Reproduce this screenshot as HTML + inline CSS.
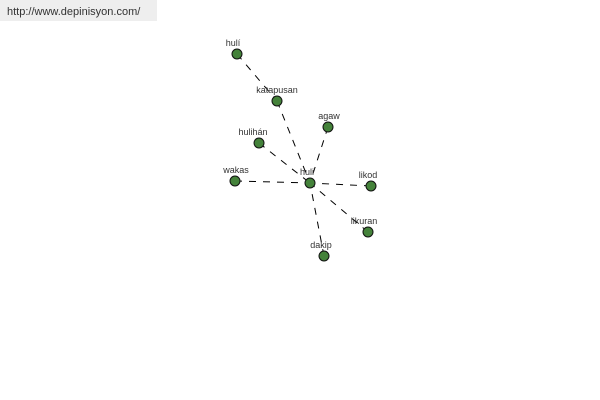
<!DOCTYPE html>
<html><head><style>body{margin:0;background:#fff}svg{display:block}</style></head><body>
<svg width="600" height="400" xmlns="http://www.w3.org/2000/svg" font-family="Liberation Sans, sans-serif">
<rect x="0" y="0" width="157" height="21" fill="#eeeeee"/>
<text x="7" y="15" font-size="11" fill="#333">http://www.depinisyon.com/</text>
<g stroke="#000" stroke-width="1" stroke-dasharray="7,7" fill="none">
<line x1="237" y1="54" x2="277" y2="101"/>
<line x1="277" y1="101" x2="310" y2="183"/>
<line x1="328" y1="127" x2="310" y2="183"/>
<line x1="259" y1="143" x2="310" y2="183"/>
<line x1="235" y1="181" x2="310" y2="183"/>
<line x1="371" y1="186" x2="310" y2="183"/>
<line x1="368" y1="232" x2="310" y2="183"/>
<line x1="324" y1="256" x2="310" y2="183"/>
</g>
<g fill="#44823a" stroke="#111" stroke-width="1">
<circle cx="237" cy="54" r="5"/><circle cx="277" cy="101" r="5"/><circle cx="328" cy="127" r="5"/>
<circle cx="259" cy="143" r="5"/><circle cx="235" cy="181" r="5"/><circle cx="310" cy="183" r="5"/>
<circle cx="371" cy="186" r="5"/><circle cx="368" cy="232" r="5"/><circle cx="324" cy="256" r="5"/>
</g>
<g font-size="9" fill="#333" text-anchor="middle">
<text x="233" y="46">hulí</text><text x="277" y="93">katapusan</text><text x="329" y="119">agaw</text>
<text x="253" y="135">hulihán</text><text x="236" y="173">wakas</text><text x="307" y="175">huli</text>
<text x="368" y="178">likod</text><text x="364" y="224">likuran</text><text x="321" y="248">dakip</text>
</g>
</svg>
</body></html>
